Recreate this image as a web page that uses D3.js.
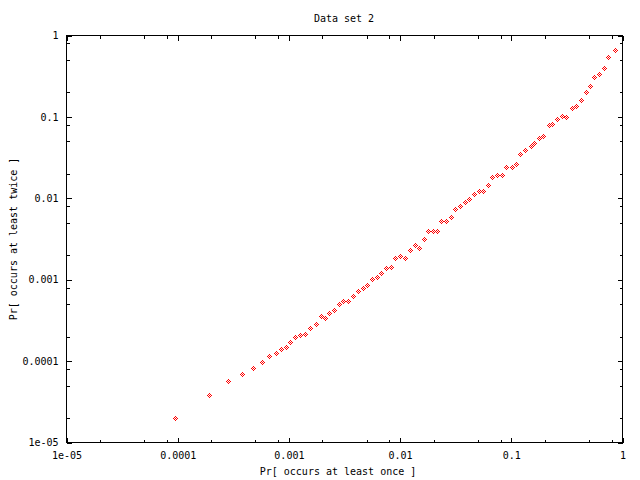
<!DOCTYPE html>
<html>
<head>
<meta charset="utf-8">
<script src="https://cdn.jsdelivr.net/npm/d3@7"></script>
<style>
body { margin: 0; background: #fff; }
text { font-family: "DejaVu Sans Mono", monospace; font-size: 10px; fill: #000; }
</style>
</head>
<body>
<script>
// Pr[occurs at least once] vs Pr[occurs at least twice]
var onceValues = [
    1e-4, 2e-4, 3e-4, 4e-4, 5e-4, 6e-4, 7e-4, 8e-4, 9e-4, 1e-3,
    1.08e-3, 1.20e-3, 1.33e-3, 1.48e-3, 1.64e-3, 1.86e-3, 2.06e-3, 2.24e-3, 2.43e-3, 2.70e-3,
    2.99e-3, 3.25e-3, 3.61e-3, 4.00e-3, 4.44e-3, 4.92e-3, 5.35e-3, 5.93e-3, 6.58e-3, 7.15e-3,
    7.93e-3, 8.80e-3, 9.55e-3, 0.0106, 0.0117, 0.0128, 0.0142, 0.0157, 0.0171, 0.0189,
    0.0208, 0.0228, 0.0248, 0.0275, 0.0305, 0.0331, 0.0367, 0.0407, 0.0443, 0.0491,
    0.0545, 0.0592, 0.0656, 0.0713, 0.0791, 0.0877, 0.0953, 0.106, 0.117, 0.127,
    0.141, 0.157, 0.170, 0.185, 0.205, 0.228, 0.247, 0.274, 0.298, 0.330,
    0.367, 0.398, 0.442, 0.490, 0.532, 0.578, 0.641, 0.711, 0.773, 0.894
];
var twiceValues = [
    2.0e-5, 3.9e-5, 5.7e-5, 7.1e-5, 8.4e-5, 1.0e-4, 1.18e-4, 1.29e-4, 1.44e-4, 1.52e-4,
    1.72e-4, 2.0e-4, 2.14e-4, 2.2e-4, 2.61e-4, 2.92e-4, 3.66e-4, 3.46e-4, 3.98e-4, 4.25e-4,
    5.13e-4, 5.59e-4, 5.59e-4, 6.44e-4, 7.27e-4, 8.13e-4, 8.85e-4, 1.04e-3, 1.10e-3, 1.21e-3,
    1.42e-3, 1.46e-3, 1.88e-3, 2.01e-3, 1.88e-3, 2.36e-3, 2.72e-3, 2.50e-3, 3.25e-3, 4.04e-3,
    4.04e-3, 4.04e-3, 5.41e-3, 5.41e-3, 6.05e-3, 7.59e-3, 8.18e-3, 9.25e-3, 9.97e-3, 0.0116,
    0.0126, 0.0126, 0.0149, 0.0187, 0.0198, 0.0198, 0.0246, 0.0246, 0.0270, 0.0356,
    0.0398, 0.0446, 0.0485, 0.0559, 0.0596, 0.0807, 0.0830, 0.0955, 0.104, 0.101,
    0.130, 0.138, 0.163, 0.205, 0.243, 0.313, 0.341, 0.404, 0.551, 0.671
];

var tickValues = [1e-5, 1e-4, 1e-3, 1e-2, 1e-1, 1];
var tickLabels = ["1e-05", "0.0001", "0.001", "0.01", "0.1", "1"];
var minorSteps = [2, 5, 8];

var width = 640, height = 480;
var plotLeft = 66.5, plotRight = 622.5, plotTop = 35.5, plotBottom = 442.5;

var svg = d3.select("body")
    .append("svg")
    .attr("width", width)
    .attr("height", height)
    .style("display", "block");

var x = d3.scaleLog().domain([1e-5, 1]).range([plotLeft, plotRight]);
var y = d3.scaleLog().domain([1e-5, 1]).range([plotBottom, plotTop]);

var minorTicks = [];
tickValues.slice(0, -1).forEach(function(d) {
    minorSteps.forEach(function(m) { minorTicks.push(d * m); });
});

function fmt(d) {
    return tickLabels[tickValues.indexOf(d)];
}

// major ticks with labels
svg.append("g")
    .attr("transform", "translate(0," + plotBottom + ")")
    .call(d3.axisBottom(x).tickValues(tickValues).tickFormat(fmt).tickSizeInner(-5).tickSizeOuter(0).tickPadding(9));
svg.append("g")
    .attr("transform", "translate(" + plotLeft + ",0)")
    .call(d3.axisLeft(y).tickValues(tickValues).tickFormat(fmt).tickSizeInner(-5).tickSizeOuter(0).tickPadding(8));
// mirrored ticks
svg.append("g")
    .attr("transform", "translate(0," + plotTop + ")")
    .call(d3.axisTop(x).tickValues(tickValues).tickFormat("").tickSizeInner(-5).tickSizeOuter(0));
svg.append("g")
    .attr("transform", "translate(" + plotRight + ",0)")
    .call(d3.axisRight(y).tickValues(tickValues).tickFormat("").tickSizeInner(-5).tickSizeOuter(0));

// minor ticks
svg.append("g")
    .attr("transform", "translate(0," + plotBottom + ")")
    .call(d3.axisBottom(x).tickValues(minorTicks).tickFormat("").tickSizeInner(-3).tickSizeOuter(0));
svg.append("g")
    .attr("transform", "translate(0," + plotTop + ")")
    .call(d3.axisTop(x).tickValues(minorTicks).tickFormat("").tickSizeInner(-3).tickSizeOuter(0));
svg.append("g")
    .attr("transform", "translate(" + plotLeft + ",0)")
    .call(d3.axisLeft(y).tickValues(minorTicks).tickFormat("").tickSizeInner(-3).tickSizeOuter(0));
svg.append("g")
    .attr("transform", "translate(" + plotRight + ",0)")
    .call(d3.axisRight(y).tickValues(minorTicks).tickFormat("").tickSizeInner(-3).tickSizeOuter(0));

svg.selectAll(".domain").remove();
svg.selectAll(".tick line")
    .attr("stroke", "#000")
    .attr("shape-rendering", "crispEdges");
svg.selectAll(".tick text")
    .attr("font-family", null)
    .attr("font-size", null);

// border
svg.append("rect")
    .attr("x", plotLeft)
    .attr("y", plotTop)
    .attr("width", plotRight - plotLeft)
    .attr("height", plotBottom - plotTop)
    .attr("fill", "none")
    .attr("stroke", "#000")
    .attr("shape-rendering", "crispEdges");

// gnuplot-ish diamond marker, drawn pixel by pixel
// (the png terminal puts it a couple of pixels left/down of the data point)
var markerPixels = [[0,-2],[-1,-1],[1,-1],[-2,0],[0,0],[2,0],[-1,1],[1,1],[0,2]];
var markerShift = [-2, 1];

var points = svg.append("g")
    .selectAll("g")
    .data(onceValues.map(function(d, i) { return [d, twiceValues[i]]; }))
    .enter()
    .append("g")
    .attr("transform", function(d) {
        var px = Math.round(x(d[0]) - 0.5) + markerShift[0];
        var py = Math.round(y(d[1]) - 0.5) + markerShift[1];
        return "translate(" + px + "," + py + ")";
    });

points.selectAll("rect")
    .data(markerPixels)
    .enter()
    .append("rect")
    .attr("x", function(p) { return p[0]; })
    .attr("y", function(p) { return p[1]; })
    .attr("width", 1)
    .attr("height", 1)
    .attr("fill", "#ff0000")
    .attr("shape-rendering", "crispEdges");

// title and axis labels
svg.append("text")
    .attr("x", 344)
    .attr("y", 22)
    .attr("text-anchor", "middle")
    .text("Data set 2");

svg.append("text")
    .attr("x", 338)
    .attr("y", 475)
    .attr("text-anchor", "middle")
    .text("Pr[ occurs at least once ]");

svg.append("text")
    .attr("transform", "translate(17,239) rotate(-90)")
    .attr("text-anchor", "middle")
    .text("Pr[ occurs at least twice ]");
</script>
</body>
</html>
